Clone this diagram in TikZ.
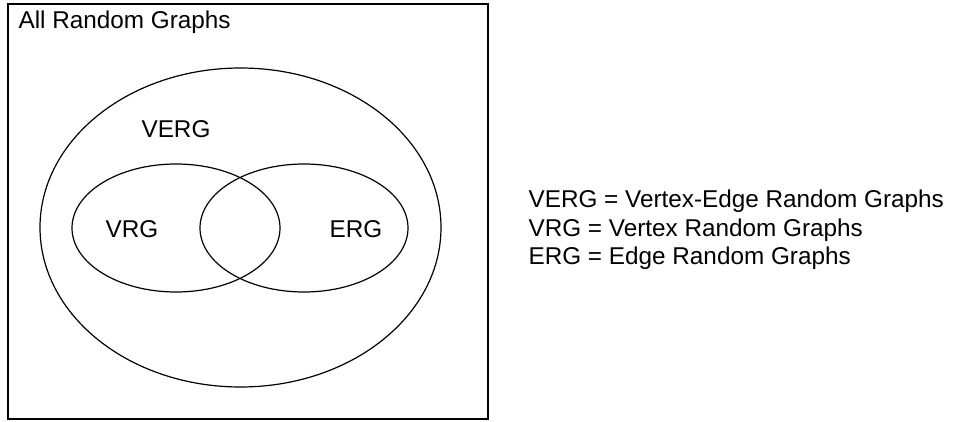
\documentclass[tikz,border=0pt]{standalone}
\usepackage{fontspec}
\setmainfont{Liberation Sans}
\begin{document}
\begin{tikzpicture}[x=1pt,y=-1pt,line width=1.2pt,
	every node/.style={inner sep=0pt,font=\fontsize{24.3}{28}\selectfont},
	lbl/.style={anchor=base west}]
			% Frame
			\def\boxleftx{8}
			\def\boxrightx{488}
			\def\boxtopy{4}
			\def\boxboty{419}
			\def\setry{64}

			\useasboundingbox (0,0) rectangle (953,422);
			\draw (\boxleftx, \boxtopy) rectangle (\boxrightx, \boxboty);
			\node[lbl] (all) at (18, 29) {All Random Graphs};

			% Sets
			\draw (240.5, 227.5) ellipse [x radius=200.5pt, y radius=159.5pt];
			\draw (176, 228) ellipse [x radius=104pt, y radius=\setry pt];
			\draw (304, 228) ellipse [x radius=104pt, y radius=\setry pt];
			\node (verg) at (176, 129) {VERG};
			\node (vrg) at (132, 229) {VRG};
			\node (erg) at (356, 229) {ERG};

			% Legend
			\node[lbl] (key1) at (528, 208) {VERG = Vertex-Edge Random Graphs};
			\node[lbl] (key2) at (528, 236.5) {VRG = Vertex Random Graphs};
			\node[lbl] (key3) at (528, 265) {ERG = Edge Random Graphs};
		\end{tikzpicture}
\end{document}
